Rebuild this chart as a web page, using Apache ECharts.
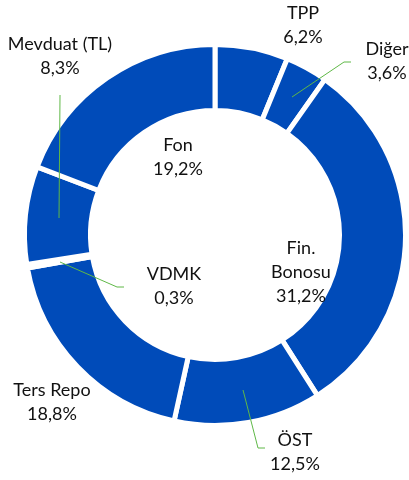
<!DOCTYPE html>
<html><head><meta charset="utf-8">
<script src="https://cdn.jsdelivr.net/npm/echarts@6/dist/echarts.min.js"></script>
<style>html,body{margin:0;padding:0;background:#fff}#c{width:409px;height:480px}</style>
</head><body><div id="c"></div>
<script>
const categories = ['TPP', 'Diğer', 'Fin. Bonosu', 'ÖST', 'Ters Repo', 'VDMK', 'Mevduat (TL)', 'Fon'];
const shares = [6.2, 3.6, 31.2, 12.5, 18.8, 0.3, 8.3, 19.2];

// label placement (style only)
const labelPos = [[303,25],[387,61],[301,272],[295,452],[52,402],[174,286],[60,56],[178,157]];
const leaderLines = {
  1: [[292,97],[344,62],[351,62]],
  3: [[243,390],[258,448],[265,448]],
  5: [[60,262],[117,287],[124,287]],
  6: [[59,218],[60,96],[60,95]]
};

const chart = echarts.init(document.getElementById('c'), null, {renderer:'canvas'});
const baseData = categories.map((n,i)=>({name:n, value:shares[i]}));
const labelData = categories.map((n,i)=>({
  name:n, value:shares[i],
  labelLine:{show: leaderLines[i] !== undefined}
}));
const common = {
  type:'pie', center:[215,235], radius:[124.5,190.5],
  startAngle:90, clockwise:true, avoidLabelOverlap:false,
  emphasis:{disabled:true}, silent:true
};
chart.setOption({
  animation:false,
  series:[
    Object.assign({}, common, {
      z:2,
      itemStyle:{color:'#004BB9', borderColor:'#ffffff', borderWidth:5},
      label:{show:false}, labelLine:{show:false},
      data:baseData
    }),
    Object.assign({}, common, {
      z:5,
      itemStyle:{color:'rgba(0,0,0,0)', borderWidth:0},
      label:{
        show:true, position:'outside',
        fontFamily:'Lato', fontSize:18, lineHeight:24, color:'#111111',
        formatter:p=>{
          const nm = p.name === 'Fin. Bonosu' ? 'Fin.\nBonosu' : p.name;
          return nm + '\n' + p.value.toFixed(1).replace('.', ',') + '%';
        }
      },
      labelLine:{show:true, smooth:false, lineStyle:{color:'#5FB847', width:1}},
      labelLayout:function(p){
        const i = p.dataIndex;
        const o = {x:labelPos[i][0], y:labelPos[i][1], align:'center', verticalAlign:'middle'};
        if (leaderLines[i]) o.labelLinePoints = leaderLines[i];
        return o;
      },
      data:labelData
    })
  ]
});
</script></body></html>
